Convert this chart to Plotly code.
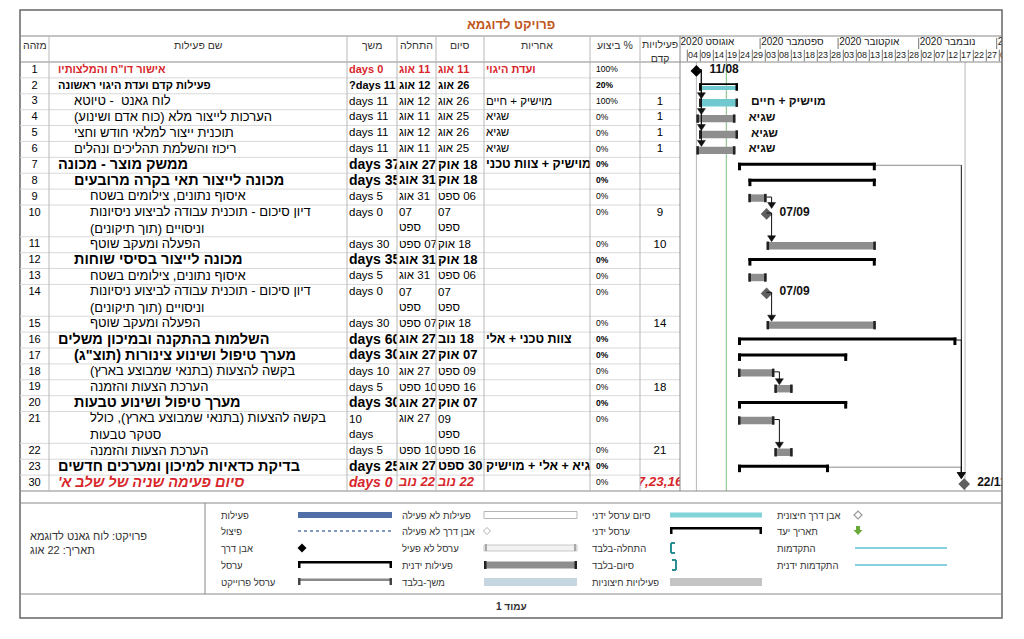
import plotly.graph_objects as go
from datetime import datetime, timedelta

PAGE_W, PAGE_H = 1024, 639
BODY_MARGIN = 8                      # default <body> margin of the html page
W, H = PAGE_W - 2 * BODY_MARGIN, PAGE_H - 2 * BODY_MARGIN
FONT = "Arial, Liberation Sans, DejaVu Sans, sans-serif"
RLM = "\u200f"

# ------------------------------------------------------------------ data
project_title = "פרויקט לדוגמא"
column_headers = ["מזהה", "שם פעילות", "משך", "התחלה", "סיום", "אחריות", "% ביצוע", "פעילויות\nקדם"]

task_ids = [1, 2, 3, 4, 5, 6, 7, 8, 9, 10, 11, 12, 13, 14, 15, 16, 17, 18, 19, 20, 21, 22, 23, 30]
task_names = [
    'אישור דו"ח והמלצותיו',
    "פעילות קדם ועדת היגוי ראשונה",
    "לוח גאנט  - טיוטא",
    "הערכות לייצור מלא (כוח אדם ושינוע)",
    "תוכנית ייצור למלאי חודש וחצי",
    "ריכוז והשלמת תהליכים ונהלים",
    "ממשק מוצר - מכונה",
    "מכונה לייצור תאי בקרה מרובעים",
    "איסוף נתונים, צילומים בשטח",
    "דיון סיכום - תוכנית עבודה לביצוע ניסיונות\nוניסויים (תוך תיקונים)",
    "הפעלה ומעקב שוטף",
    "מכונה לייצור בסיסי שוחות",
    "איסוף נתונים, צילומים בשטח",
    "דיון סיכום - תוכנית עבודה לביצוע ניסיונות\nוניסויים (תוך תיקונים)",
    "הפעלה ומעקב שוטף",
    "השלמות בהתקנה ובמיכון משלים",
    'מערך טיפול ושינוע צינורות (תוצ"ג)',
    "בקשה להצעות (בתנאי שמבוצע בארץ)",
    "הערכת הצעות והזמנה",
    "מערך טיפול ושינוע טבעות",
    "בקשה להצעות (בתנאי שמבוצע בארץ), כולל\nסטקר טבעות",
    "הערכת הצעות והזמנה",
    "בדיקת כדאיות למיכון ומערכים חדשים",
    "סיום פעימה שניה של שלב א'",
]
outline_levels = [1, 1, 2, 2, 2, 2, 1, 2, 3, 3, 3, 2, 3, 3, 3, 1, 2, 3, 3, 2, 3, 3, 1, 1]
durations = ["days 0", "?days 11", "days 11", "days 11", "days 11", "days 11", "days 37", "days 35",
             "days 5", "days 0", "days 30", "days 35", "days 5", "days 0", "days 30", "days 60",
             "days 30", "days 10", "days 5", "days 30", "days 10", "days 5", "days 25", "days 0"]
start_dates = ["2020-08-11", "2020-08-12", "2020-08-12", "2020-08-11", "2020-08-12", "2020-08-11",
               "2020-08-27", "2020-08-31", "2020-08-31", "2020-09-07", "2020-09-07", "2020-08-31",
               "2020-08-31", "2020-09-07", "2020-09-07", "2020-08-27", "2020-08-27", "2020-08-27",
               "2020-09-10", "2020-08-27", "2020-08-27", "2020-09-10", "2020-08-27", "2020-11-22"]
finish_dates = ["2020-08-11", "2020-08-26", "2020-08-26", "2020-08-25", "2020-08-26", "2020-08-25",
                "2020-10-18", "2020-10-18", "2020-09-06", "2020-09-07", "2020-10-18", "2020-10-18",
                "2020-09-06", "2020-09-07", "2020-10-18", "2020-11-18", "2020-10-07", "2020-09-09",
                "2020-09-16", "2020-10-07", "2020-09-09", "2020-09-16", "2020-09-30", "2020-11-22"]
resources = ["ועדת היגוי", "", "מוישיק + חיים", "שגיא", "שגיא", "שגיא", "מוישיק + צוות טכני", "",
             "", "", "", "", "", "", "", "צוות טכני + אלי", "", "", "", "", "", "", "שגיא + אלי + מוישיק", ""]
percent_done = [100, 20, 100, 0, 0, 0, 0, 0, 0, 0, 0, 0, 0, 0, 0, 0, 0, 0, 0, 0, 0, 0, 0, 0]
predecessors = ["", "", "1", "1", "1", "1", "", "", "", "9", "10", "", "", "", "14", "", "", "",
                "18", "", "", "21", "", "7,23,16"]
summary_ids = [2, 7, 8, 12, 16, 17, 20, 23]
rollup_summary_ids = [2]
critical_ids = [1, 30]
italic_ids = [30]
heb_months = {8: "אוג", 9: "ספט", 10: "אוק", 11: "נוב"}

month_starts = ["2020-08-01", "2020-09-01", "2020-10-01", "2020-11-01", "2020-12-01"]
month_labels = ["2020 אוגוסט", "2020 ספטמבר", "2020 אוקטובר", "2020 נובמבר", "2020 דצמבר"]
day_tick_dates = ["2020-08-04", "2020-08-09", "2020-08-14", "2020-08-19", "2020-08-24", "2020-08-29",
                  "2020-09-03", "2020-09-08", "2020-09-13", "2020-09-18", "2020-09-23", "2020-09-28",
                  "2020-10-03", "2020-10-08", "2020-10-13", "2020-10-18", "2020-10-23", "2020-10-28",
                  "2020-11-02", "2020-11-07", "2020-11-12", "2020-11-17", "2020-11-22", "2020-11-27",
                  "2020-12-02"]
day_tick_labels = ["04", "09", "14", "19", "24", "29", "03", "08", "13", "18", "23", "28",
                   "03", "08", "13", "18", "23", "28", "02", "07", "12", "17", "22", "27", "02"]
gantt_range = ["2020-08-04 16:36", "2020-12-06 12:58"]
project_start = "2020-08-11"
status_date = "2020-08-22 12:00"
project_finish = "2020-11-22 08:00"

legend_columns = [
    [("פעילות", "task"), ("פיצול", "split"), ("אבן דרך", "milestone"), ("ערסל", "summary"),
     ("ערסל פרוייקט", "project_summary")],
    [("פעילות לא פעילה", "inactive_task"), ("אבן דרך לא פעילה", "inactive_milestone"),
     ("ערסל לא פעיל", "inactive_summary"), ("פעילות ידנית", "manual_task"), ("משך-בלבד", "duration_only")],
    [("סיום ערסל ידני", "manual_rollup"), ("ערסל ידני", "manual_summary"), ("התחלה-בלבד", "start_only"),
     ("סיום-בלבד", "finish_only"), ("פעילויות חיצוניות", "external_tasks")],
    [("אבן דרך חיצונית", "external_milestone"), ("תאריך יעד", "deadline"), ("התקדמות", "progress"),
     ("התקדמות ידנית", "manual_progress")],
]
footer_info = ["פרויקט: לוח גאנט לדוגמא", "תאריך: 22 אוג"]
page_label = "עמוד 1"

# ------------------------------------------------------------------ styles / geometry (page pixels)
RED = "#d8262b"
TITLE_COLOR = "#c0561a"
GRAY_BAR = "#8e8e8e"
CYAN = "#6fc9cf"
CAP = "#222222"

FRAME_L, FRAME_R, FRAME_T, FRAME_B = 20, 1002, 10, 618
TITLE_B, HEAD_B, BODY_B = 36, 62, 491
col_edges = [20, 49, 347, 397, 436, 484, 590, 640, 680]
GANTT_L, GANTT_R = 680, 1002
LEG_T, LEG_B, LEG_DIV = 503, 594, 205


def fx(x):
    return (x - BODY_MARGIN) / W


def fy(y):
    return 1 - (y - BODY_MARGIN) / H


def day(s):
    return datetime.strptime(s[:10], "%Y-%m-%d")


def rtl(s):
    return RLM + s


row_units = [nm.count("\n") + 1 for nm in task_names]
row_top = []
acc = 0
for ru in row_units:
    row_top.append(acc)
    acc += ru
TOTAL = acc
UPX = (BODY_B - HEAD_B) / TOTAL


def u(px):
    return px / UPX


fig = go.Figure()
shapes, annotations = [], []


def pline(x0, y0, x1, y1, color, width=1, dash="solid"):
    shapes.append(dict(type="line", xref="paper", yref="paper", x0=fx(x0), y0=fy(y0), x1=fx(x1), y1=fy(y1),
                       line=dict(color=color, width=width, dash=dash)))


def prect(x0, y0, x1, y1, fill, lc=None, lw=0):
    shapes.append(dict(type="rect", xref="paper", yref="paper", x0=fx(x0), y0=fy(y1), x1=fx(x1), y1=fy(y0),
                       fillcolor=fill, line=dict(color=lc or fill, width=lw)))


def ppath(x, y, path, fill, lc=None, lw=0):
    shapes.append(dict(type="path", xref="paper", yref="paper", xsizemode="pixel", ysizemode="pixel",
                       xanchor=fx(x), yanchor=fy(y), path=path, fillcolor=fill,
                       line=dict(color=lc or fill, width=lw)))


def ptext(x, y, text, size=10, color="#333", xanchor="center", bold=False):
    if bold:
        text = "<b>" + text + "</b>"
    annotations.append(dict(xref="paper", yref="paper", x=fx(x), y=fy(y), text=text, showarrow=False,
                            xanchor=xanchor, yanchor="middle", font=dict(family=FONT, size=size, color=color)))


def fmt(text, bold=False, italic=False):
    if not text:
        return ""
    if bold:
        text = "<b>" + text + "</b>"
    if italic:
        text = "<i>" + text + "</i>"
    return text


def rtl_lines(s):
    return "<br>".join(RLM + ln + RLM for ln in s.split("\n"))


# ------------------------------------------------------------------ frame & grid
prect(FRAME_L, FRAME_T, FRAME_R, FRAME_B, "rgba(0,0,0,0)", "#666", 1.5)
for yy in (TITLE_B, HEAD_B, BODY_B, LEG_T, LEG_B):
    pline(FRAME_L, yy, FRAME_R, yy, "#888")
pline(LEG_DIV, LEG_T, LEG_DIV, LEG_B, "#888")
for t in row_top[1:]:
    yy = HEAD_B + t * UPX
    pline(FRAME_L, yy, GANTT_L, yy, "#d9d9d9")
for xx in col_edges[1:-1]:
    pline(xx, TITLE_B, xx, BODY_B, "#b8b8b8")
pline(GANTT_L, TITLE_B, GANTT_L, BODY_B, "#888")

# title + headers
ptext(511, 24, project_title, 13, TITLE_COLOR, bold=True)
for k, htxt in enumerate(column_headers):
    cx = (col_edges[k] + col_edges[k + 1]) / 2
    lines = [rtl(ln) for ln in htxt.split("\n")]
    ptext(cx, 45 if len(lines) == 1 else 51, "<br>".join(lines), 10.5, "#333")

# ------------------------------------------------------------------ table body
wrap_cells = {10: ("start", "finish"), 14: ("start", "finish"), 21: ("dur", "finish")}
cols = {k: dict(x=[], y=[], t=[], s=[], c=[]) for k in ["id", "name", "dur", "start", "finish", "res", "pct", "pred"]}


def put(col, x, top, text, size, color):
    nl = text.count("<br>") + 1
    cols[col]["x"].append(x)
    cols[col]["y"].append(top + nl / 2)
    cols[col]["t"].append(text)
    cols[col]["s"].append(size)
    cols[col]["c"].append(color)


def date_label(s):
    dd = day(s)
    return "%02d %s" % (dd.day, heb_months[dd.month])


for i, tid in enumerate(task_ids):
    top = row_top[i]
    is_sum = tid in summary_ids
    is_crit = tid in critical_ids
    bold = is_sum or is_crit
    ital = tid in italic_ids
    big = tid >= 7
    if bold:
        name_size, dur_size, date_size = (14.5, 14, 13) if big else (11, 11, 11)
    else:
        name_size, dur_size, date_size = 13, 11.5, 11.5
    color = RED if is_crit else "#000"
    wraps = wrap_cells.get(tid, ())

    put("id", 34.5, top, str(tid), 11, "#000")
    put("name", 58 + (outline_levels[i] - 1) * 16, top, fmt(rtl_lines(task_names[i]), bold, ital), name_size, color)
    dtxt = durations[i]
    if "dur" in wraps:
        dtxt = "<br>".join(reversed(dtxt.split()))
    put("dur", 349, top, fmt(dtxt, bold, ital), dur_size, color)
    for key, src in (("start", start_dates[i]), ("finish", finish_dates[i])):
        txt = date_label(src)
        if key in wraps:
            txt = "<br>".join(txt.split())
        else:
            txt = rtl(txt)
        put(key, 399 if key == "start" else 438, top, fmt(txt, bold, ital), date_size, color)
    rsize = 12.5 if (bold and big) else date_size
    put("res", 486, top, fmt(RLM + resources[i] + RLM if resources[i] else "", bold, False), rsize, color)
    put("pct", 596, top, fmt("%d%%" % percent_done[i], is_sum, False), 8.5, "#000")
    pbold = is_crit
    put("pred", 660, top, fmt(predecessors[i], pbold, ital), 13.5 if pbold else 11.5, color if pbold else "#000")

col_axis = {"id": "x2", "name": "x3", "dur": "x4", "start": "x5", "finish": "x6", "res": "x7", "pct": "x8", "pred": "x9"}
col_pos = {"id": "middle center", "pred": "middle center"}
for key, dat in cols.items():
    fig.add_trace(go.Scatter(
        x=dat["x"], y=dat["y"], text=dat["t"], mode="text",
        textposition=col_pos.get(key, "middle right"),
        textfont=dict(family=FONT, size=dat["s"], color=dat["c"]),
        xaxis=col_axis[key], yaxis="y", hoverinfo="skip", showlegend=False, cliponaxis=True))

# ------------------------------------------------------------------ gantt header
for k, ms in enumerate(month_starts):
    xm = day(ms) + timedelta(days=3.5)
    if k > 0:
        shapes.append(dict(type="line", xref="x", yref="y2", x0=xm, x1=xm, y0=0.15, y1=1.0,
                           line=dict(color="#777", width=1)))
fig.add_trace(go.Scatter(
    x=[day(ms) + timedelta(days=3.9) for ms in month_starts], y=[0.5] * len(month_starts),
    text=month_labels, mode="text", textposition="middle right",
    textfont=dict(family=FONT, size=10, color="#222"), xaxis="x", yaxis="y2",
    hoverinfo="skip", showlegend=False, cliponaxis=True))
for dt in day_tick_dates:
    xd = day(dt) + timedelta(days=3.5)
    shapes.append(dict(type="line", xref="x", yref="y2", x0=xd, x1=xd, y0=1.05, y1=1.95,
                       line=dict(color="#777", width=1)))
fig.add_trace(go.Scatter(
    x=[day(dt) + timedelta(days=3.8) for dt in day_tick_dates], y=[1.5] * len(day_tick_dates),
    text=day_tick_labels, mode="text", textposition="middle right",
    textfont=dict(family=FONT, size=9, color="#222"), xaxis="x", yaxis="y2",
    hoverinfo="skip", showlegend=False, cliponaxis=True))

# ------------------------------------------------------------------ gantt body
for xv, colr in ((day(project_start), "#b8b8b8"), (status_date, "#7cbf7c"), (project_finish, "#b8b8b8")):
    shapes.append(dict(type="line", xref="x", yref="y", x0=xv, x1=xv, y0=0, y1=TOTAL,
                       line=dict(color=colr, width=1), layer="below"))


def drect(x0, x1, y0, y1, fill):
    shapes.append(dict(type="rect", xref="x", yref="y", x0=x0, x1=x1, y0=y0, y1=y1, fillcolor=fill,
                       line=dict(width=0), layer="above"))


def dcap(xa, y0, y1, side, fill=CAP, w=2.5):
    x0, x1 = (0, w) if side == "start" else (-w, 0)
    shapes.append(dict(type="rect", xref="x", yref="y", xsizemode="pixel", xanchor=xa, x0=x0, x1=x1,
                       y0=y0, y1=y1, fillcolor=fill, line=dict(width=0), layer="above"))


def dline(x0, x1, y0, y1, color="#111", width=1):
    shapes.append(dict(type="line", xref="x", yref="y", x0=x0, x1=x1, y0=y0, y1=y1,
                       line=dict(color=color, width=width), layer="above"))


def dline_px(xa, dx0, dx1, y0, y1, color="#111", width=1):
    shapes.append(dict(type="line", xref="x", yref="y", xsizemode="pixel", xanchor=xa, x0=dx0, x1=dx1,
                       y0=y0, y1=y1, line=dict(color=color, width=width), layer="above"))


def darrow(xa, dx, ytip, color="#111"):
    shapes.append(dict(type="path", xref="x", yref="y", xsizemode="pixel", ysizemode="pixel",
                       xanchor=xa, yanchor=ytip, path="M %g,6 L %g,6 L %g,0 Z" % (dx - 4, dx + 4, dx),
                       fillcolor=color, line=dict(color=color, width=0.5), layer="above"))


ms_x, ms_y, ms_c = [], [], []
lab_x, lab_y, lab_t = [], [], []
bar_geom = {}
for i, tid in enumerate(task_ids):
    c = row_top[i] + 0.5
    s = day(start_dates[i])
    e = day(finish_dates[i]) + timedelta(days=1)
    if durations[i] == "days 0":
        ms_x.append(s)
        ms_y.append(c + u(1))
        ms_c.append("#000" if tid == 1 else "#5f5f5f")
        lab_x.append(s + timedelta(days=5))
        lab_y.append(c)
        lab_t.append("<b>%02d/%02d</b>" % (s.day, s.month))
        bar_geom[tid] = (s, s, c, c + u(1) - u(5.5), True)
        continue
    if tid in summary_ids:
        if tid in rollup_summary_ids:
            drect(s, e, c - u(2.5), c - u(0.8), "#000")
            drect(s, e, c + u(0.2), c + u(4.2), CYAN)
            dcap(s, c - u(2.5), c + u(4.9), "start", "#000")
            dcap(e, c - u(2.5), c + u(4.9), "end", "#000")
        else:
            drect(s, e, c - u(2.5), c + u(0.5), "#000")
            dcap(s, c - u(2.5), c + u(5), "start", "#000", 3)
            dcap(e, c - u(2.5), c + u(5), "end", "#000", 3)
        bar_geom[tid] = (s, e, c, c - u(2.5), False)
    else:
        drect(s, e, c - u(2.7), c + u(4.7), CYAN if percent_done[i] == 100 else GRAY_BAR)
        dcap(s, c - u(3.2), c + u(5.2), "start")
        dcap(e, c - u(3.2), c + u(5.2), "end")
        bar_geom[tid] = (s, e, c, c - u(3.0), False)
        if resources[i]:
            lab_x.append(e + timedelta(days=5))
            lab_y.append(c)
            lab_t.append("<b>%s%s%s</b>" % (RLM, resources[i], RLM))

# dependency links (finish-to-start)
for i, tid in enumerate(task_ids):
    if not predecessors[i]:
        continue
    s_start, _, s_c, s_tip, _ = bar_geom[tid]
    for p in predecessors[i].split(","):
        p_start, p_end, p_c, _, _ = bar_geom[int(p)]
        if s_start - p_end >= timedelta(days=2):
            xv = s_start - timedelta(days=1.1)
            gray = int(p) in summary_ids and p_end < s_start - timedelta(days=4)
            dline(p_end, xv, p_c, p_c, "#8a8a8a" if gray else "#111")
            dline(xv, xv, p_c, s_tip - u(5), "#111")
            darrow(xv, 0, s_tip)
        else:
            dline_px(p_end, 0, 5, p_c, p_c)
            dline_px(p_end, 5, 5, p_c, s_tip - u(5))
            darrow(p_end, 5, s_tip)

fig.add_trace(go.Scatter(x=ms_x, y=ms_y, mode="markers",
                         marker=dict(symbol="diamond", size=9, color=ms_c, line=dict(width=0)),
                         xaxis="x", yaxis="y", hoverinfo="skip", showlegend=False, cliponaxis=True))
fig.add_trace(go.Scatter(x=lab_x, y=lab_y, text=lab_t, mode="text", textposition="middle right",
                         textfont=dict(family=FONT, size=12, color="#111"), xaxis="x", yaxis="y",
                         hoverinfo="skip", showlegend=False, cliponaxis=True))

# ------------------------------------------------------------------ legend
leg_label_x = [219, 400, 590, 775]
leg_sym_x = [(298, 392), (484, 577), (670, 762), (855, 947)]
leg_row_y = [515, 531, 548, 565, 582]


def diamond_path(r):
    return "M %g,0 L 0,%g L %g,0 L 0,%g Z" % (-r, r, r, -r)


def legend_symbol(kind, x0, x1, y):
    if kind == "task":
        prect(x0, y - 3, x1, y + 3, "#4f6fa6")
    elif kind == "split":
        pline(x0, y, x1, y, "#5a78aa", 1.5, "dot")
    elif kind == "milestone":
        ppath(x0 + 4, y, diamond_path(4.5), "#000")
    elif kind in ("summary", "manual_summary"):
        prect(x0, y - 4, x1, y - 1.5, "#000")
        prect(x0, y - 4, x0 + 2.5, y + 3, "#000")
        prect(x1 - 2.5, y - 4, x1, y + 3, "#000")
    elif kind == "project_summary":
        prect(x0, y - 3.5, x1, y - 1, "#8a8a8a")
        prect(x0, y - 4, x0 + 2.5, y + 3, "#444")
        prect(x1 - 2.5, y - 4, x1, y + 3, "#444")
    elif kind == "inactive_task":
        prect(x0, y - 3.5, x1, y + 3.5, "#ffffff", "#b5b5b5", 1)
    elif kind == "inactive_milestone":
        ppath(x0 + 3, y, diamond_path(3.5), "#ffffff", "#b0b0b0", 1)
    elif kind == "inactive_summary":
        prect(x0, y - 3, x1, y + 3, "#f2f2f2", "#c8c8c8", 1)
        prect(x0 + 1, y - 4, x0 + 3, y + 3, "#a8a8a8")
        prect(x1 - 3, y - 4, x1 - 1, y + 3, "#a8a8a8")
    elif kind == "manual_task":
        prect(x0, y - 3.5, x1, y + 3.5, GRAY_BAR)
        prect(x0, y - 4, x0 + 2.5, y + 4, CAP)
        prect(x1 - 2.5, y - 4, x1, y + 4, CAP)
    elif kind == "duration_only":
        prect(x0, y - 4, x1, y + 4, "#c6d6e0")
    elif kind == "manual_rollup":
        prect(x0, y - 2.5, x1, y + 2.5, "#82d3d8")
    elif kind == "start_only":
        pline(x0 + 1, y - 5, x0 + 1, y + 5, "#2a8f95", 2)
        pline(x0 + 1, y - 5, x0 + 5, y - 5, "#2a8f95", 2)
        pline(x0 + 1, y + 5, x0 + 5, y + 5, "#2a8f95", 2)
    elif kind == "finish_only":
        pline(x0 + 6, y - 5, x0 + 6, y + 5, "#2a8f95", 2)
        pline(x0 + 2, y - 5, x0 + 6, y - 5, "#2a8f95", 2)
        pline(x0 + 2, y + 5, x0 + 6, y + 5, "#2a8f95", 2)
    elif kind == "external_tasks":
        prect(x0, y - 4, x1, y + 4, "#c4c4c4")
    elif kind == "external_milestone":
        ppath(x0 + 3, y, diamond_path(4), "#ffffff", "#9a9a9a", 1.2)
    elif kind == "deadline":
        ppath(x0 + 3, y, "M -2,5 L 2,5 L 2,1 L 4.5,1 L 0,-4 L -4.5,1 L -2,1 Z", "#6aaa3a")
    elif kind in ("progress", "manual_progress"):
        pline(x0, y, x1, y, "#5ec1d6", 1.5)


for ci, column in enumerate(legend_columns):
    for ri, (label, kind) in enumerate(column):
        yy = leg_row_y[ri]
        ptext(leg_label_x[ci], yy, rtl(label), 9.5, "#333", xanchor="left")
        legend_symbol(kind, leg_sym_x[ci][0], leg_sym_x[ci][1], yy)

ptext(28, 536, rtl(footer_info[0]), 11, "#333", xanchor="left")
ptext(28, 550, rtl(footer_info[1]), 11, "#333", xanchor="left")
ptext(511, 606, rtl(page_label), 10, "#333", bold=True)

# ------------------------------------------------------------------ layout
layout_axes = {
    "yaxis": dict(domain=[fy(BODY_B), fy(HEAD_B)], range=[TOTAL, 0], visible=False, fixedrange=True, anchor="x"),
    "yaxis2": dict(domain=[fy(HEAD_B), fy(TITLE_B)], range=[2, 0], visible=False, fixedrange=True, anchor="x"),
    "xaxis": dict(domain=[fx(GANTT_L), fx(GANTT_R)], range=gantt_range, type="date", visible=False,
                  fixedrange=True, anchor="y"),
}
for k in range(8):
    layout_axes["xaxis%d" % (k + 2)] = dict(domain=[fx(col_edges[k]), fx(col_edges[k + 1])],
                                            range=[col_edges[k], col_edges[k + 1]], visible=False,
                                            fixedrange=True, anchor="y")

fig.update_layout(
    width=W, height=H, autosize=False,
    margin=dict(l=0, r=0, t=0, b=0),
    paper_bgcolor="white", plot_bgcolor="rgba(0,0,0,0)",
    showlegend=False, hovermode=False,
    shapes=shapes, annotations=annotations,
    font=dict(family=FONT),
    **layout_axes,
)
fig.write_html("out.html", config={"displayModeBar": False})
